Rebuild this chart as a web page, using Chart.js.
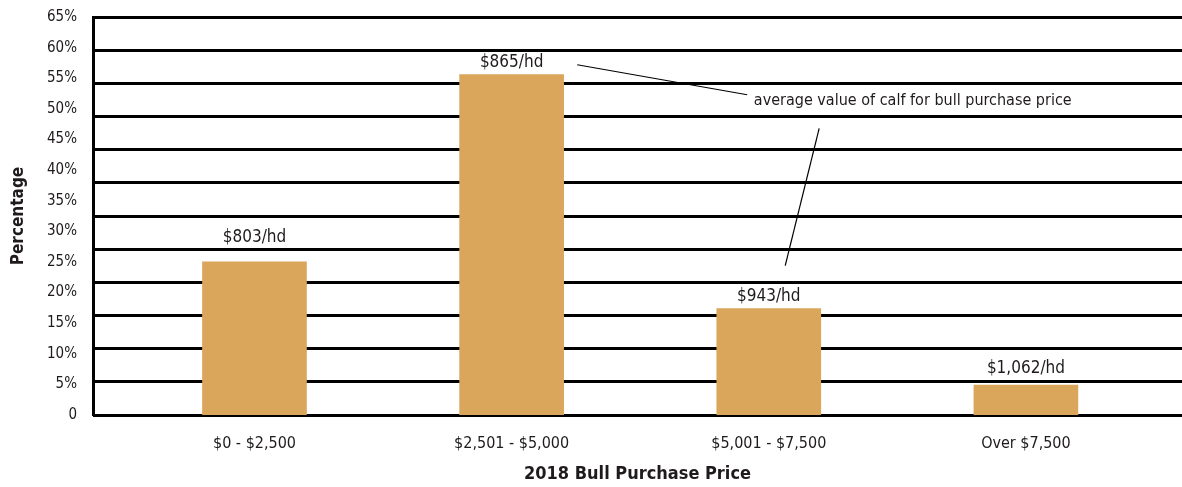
<!DOCTYPE html>
<html>
<head>
<meta charset="utf-8">
<script src="https://cdn.jsdelivr.net/npm/chart.js@4.4.1/dist/chart.umd.min.js"></script>
<style>
  html, body { margin: 0; padding: 0; background: #fff; }
  #wrap { width: 1182px; height: 487px; }
</style>
</head>
<body>
<div id="wrap"><canvas id="bullChart" width="1182" height="487"></canvas></div>
<script>
// dados do grafico
const categories = ['$0 - $2,500', '$2,501 - $5,000', '$5,001 - $7,500', 'Over $7,500'];
const percentages = [25.0, 55.6, 17.4, 4.9];
const calfValues = ['$803/hd', '$865/hd', '$943/hd', '$1,062/hd'];
const noteText = 'average value of calf for bull purchase price';

const FONT = "'Liberation Sans Narrow', 'DejaVu Sans Condensed', 'Open Sans', sans-serif";
const INK = '#1f1b1c';

// rotulos acima das barras + nota com setas
const labelsPlugin = {
    id: 'calfLabels',
    afterDatasetsDraw(chart, args, opts) {
        const ctx = chart.ctx;
        const meta = chart.getDatasetMeta(0);
        const xs = chart.scales.x, ys = chart.scales.y;
        const lift = opts.lift || [];
        ctx.save();
        ctx.fillStyle = INK;
        ctx.font = '17px ' + FONT;
        ctx.textAlign = 'center';
        ctx.textBaseline = 'bottom';
        meta.data.forEach((bar, i) => {
            ctx.fillText(calfValues[i], bar.x, bar.y - 3 - (lift[i] || 0));
        });

        // nota (em unidades das escalas)
        ctx.font = '16px ' + FONT;
        ctx.textBaseline = 'middle';
        ctx.fillText(noteText, xs.getPixelForValue(2.56), ys.getPixelForValue(51.3));

        ctx.strokeStyle = '#000';
        ctx.lineWidth = 1.2;
        const arrows = [
            [[1.255, 57.2], [1.916, 52.3]],
            [[2.196, 46.8], [2.064, 24.4]]
        ];
        arrows.forEach(([a, b]) => {
            ctx.beginPath();
            ctx.moveTo(xs.getPixelForValue(a[0]), ys.getPixelForValue(a[1]));
            ctx.lineTo(xs.getPixelForValue(b[0]), ys.getPixelForValue(b[1]));
            ctx.stroke();
        });
        ctx.restore();
    }
};

new Chart(document.getElementById('bullChart'), {
    type: 'bar',
    data: {
        datasets: [{
            data: percentages.map((v, i) => ({ x: i, y: v })),
            backgroundColor: '#d9a65c',
            borderWidth: 0,
            barThickness: 104,
            yAxisID: 'y'
        }]
    },
    options: {
        responsive: false,
        animation: false,
        layout: { padding: { top: 15, left: 0, right: 0, bottom: 0 } },
        plugins: {
            legend: { display: false },
            tooltip: { enabled: false },
            calfLabels: { lift: [13, 0, 0, 5] }
        },
        scales: {
            x: {
                type: 'linear',
                offset: false,
                min: -0.628,
                max: 3.607,
                grid: { display: false, offset: false },
                border: { display: false },
                afterBuildTicks: axis => { axis.ticks = categories.map((_, i) => ({ value: i })); },
                afterFit: axis => { axis.height = 72; },
                ticks: {
                    padding: 11,
                    color: INK,
                    font: { family: FONT, size: 16 },
                    callback: v => categories[v]
                },
                title: {
                    display: true,
                    text: '2018 Bull Purchase Price',
                    color: INK,
                    font: { family: FONT, size: 18, weight: 'bold' },
                    padding: { top: 0, bottom: 2 }
                }
            },
            y: {
                position: 'left',
                min: 0,
                max: 65,
                grid: { display: false },
                border: { display: true, color: '#000', width: 3 },
                afterFit: axis => { axis.width = 93; },
                ticks: {
                    stepSize: 5,
                    autoSkip: false,
                    padding: 8,
                    color: INK,
                    font: { family: FONT, size: 15 },
                    callback: v => v === 0 ? '0' : v + '%'
                },
                title: {
                    display: true,
                    text: 'Percentage',
                    color: INK,
                    font: { family: FONT, size: 17, weight: 'bold' },
                    padding: { top: 8, bottom: 0 }
                }
            },
            // linhas horizontais do original (12 intervalos)
            yGrid: {
                position: 'right',
                min: 0,
                max: 60,
                afterFit: axis => { axis.width = 0; },
                border: { display: false },
                grid: { color: '#000', lineWidth: 3, drawTicks: false },
                ticks: { stepSize: 5, display: false }
            }
        }
    },
    plugins: [labelsPlugin]
});
</script>
</body>
</html>
